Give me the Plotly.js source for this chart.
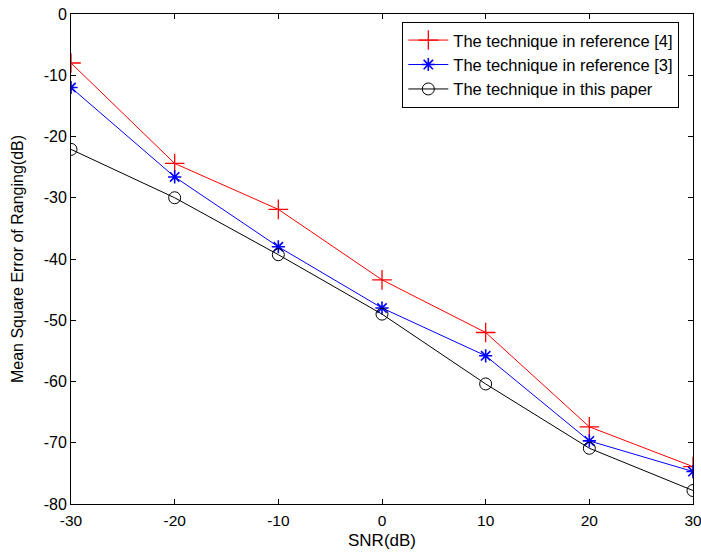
<!DOCTYPE html>
<html>
<head>
<meta charset="utf-8">
<script src="https://cdn.plot.ly/plotly-3.0.1.min.js"></script>
<style>html,body{margin:0;padding:0;background:#fff;}#chart{width:701px;height:558px;}</style>
</head>
<body>
<div id="chart"></div>
<script>
const snr = [-30, -20, -10, 0, 10, 20, 30];
const ref4 = [-8.0, -24.4, -31.9, -43.4, -52.0, -67.4, -73.9];
const ref3 = [-12.0, -26.6, -38.0, -48.0, -55.8, -69.7, -74.7];
const thisPaper = [-22.1, -30.0, -39.3, -49.0, -60.4, -70.9, -77.8];
const names = ['The technique in reference [4]', 'The technique in reference [3]', 'The technique in this paper'];
const xTicks = [-30, -20, -10, 0, 10, 20, 30];
const yTicks = [0, -10, -20, -30, -40, -50, -60, -70, -80];

const fam = 'Liberation Sans, Arial, sans-serif';
const tickFont = {family: fam, size: 16, color: '#000'};

const traces = [
  {x: snr, y: ref4, name: names[0], mode: 'lines+markers',
   line: {color: '#ff0000', width: 1},
   marker: {symbol: 'cross-thin-open', size: 14, color: '#ff0000', line: {color: '#ff0000', width: 1.3}}},
  {x: snr, y: ref3, name: names[1], mode: 'lines+markers',
   line: {color: '#0000ff', width: 1},
   marker: {symbol: 'asterisk-open', size: 11, color: '#0000ff', line: {color: '#0000ff', width: 1.6}}},
  {x: snr, y: thisPaper, name: names[2], mode: 'lines+markers',
   line: {color: '#000000', width: 1},
   marker: {symbol: 'circle-open', size: 12, color: '#000000', line: {color: '#000000', width: 1}}}
];

const axisCommon = {
  showgrid: false, zeroline: false, showline: true, linecolor: '#000', linewidth: 1,
  mirror: 'ticks', ticks: 'inside', ticklen: 5, tickcolor: '#000', tickwidth: 1,
  automargin: false
};

const layout = {
  width: 701, height: 558,
  margin: {l: 71, r: 8, t: 14, b: 54},
  paper_bgcolor: '#fff', plot_bgcolor: '#fff',
  font: tickFont,
  showlegend: true,
  legend: {x: 0.978, y: 0.984, xanchor: 'right', yanchor: 'top',
           bordercolor: '#000', borderwidth: 1, bgcolor: '#fff',
           font: {family: fam, size: 16.5, color: '#000'}, tracegroupgap: 0, itemwidth: 40},
  xaxis: Object.assign({}, axisCommon, {
    range: [-30, 30], tickvals: xTicks, ticktext: xTicks.map(String),
    tickfont: {family: fam, size: 15.5, color: '#000'},
    ticklabeloverflow: 'allow',
    ticklabelstandoff: 2,
    title: {text: 'SNR(dB)', font: {family: fam, size: 17, color: '#000'}, standoff: 6}
  }),
  yaxis: Object.assign({}, axisCommon, {
    range: [-80, 0], tickvals: yTicks, ticktext: yTicks.map(String),
    tickfont: tickFont,
    title: {text: 'Mean Square Error of Ranging(dB)', font: {family: fam, size: 16, color: '#000'}, standoff: 16}
  })
};

Plotly.newPlot('chart', traces, layout, {displayModeBar: false, staticPlot: true});
</script>
</body>
</html>
